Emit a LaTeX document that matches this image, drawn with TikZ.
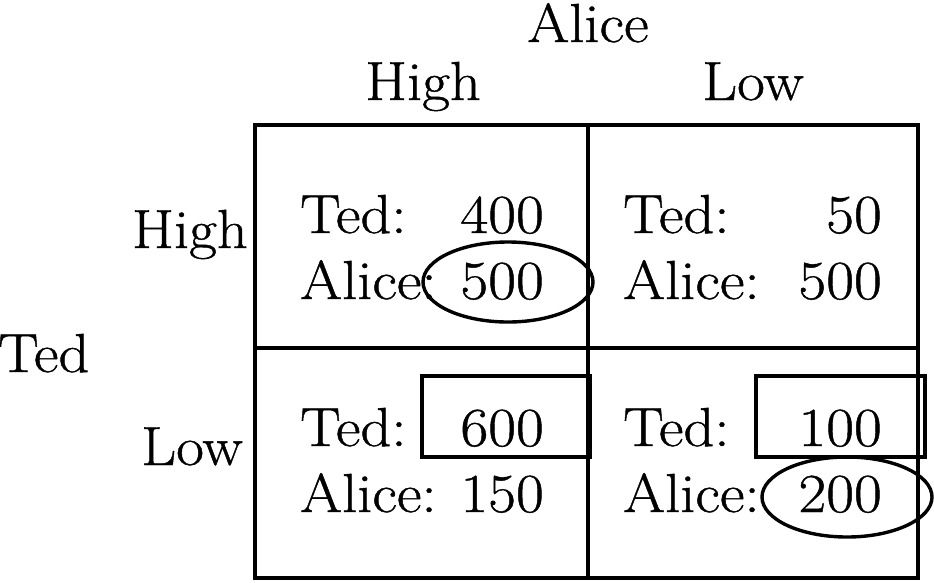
\documentclass[tikz,border=0pt]{standalone}
\usepackage{fontspec}
\newfontfamily\pfont{Latin Modern Roman}[FakeStretch=1.1, FakeBold=0.8]
\begin{document}
\begin{tikzpicture}[x=1pt,y=-1pt,
  txt/.style={font=\pfont\fontsize{55}{60}\selectfont, inner sep=0pt},
  lt/.style={txt, anchor=base west},
  rt/.style={txt, anchor=base east},
  ct/.style={txt, anchor=base},
  gridline/.style={line width=3.2pt, line cap=rect},
  ring/.style={line width=3.4pt},
  boxmark/.style={line width=3.4pt}]
\useasboundingbox (0,0) rectangle (934,582);
% grid
\draw[gridline] (255,125) rectangle (918,578);
\draw[gridline] (588,125) -- (588,578);
\draw[gridline] (255,348) -- (918,348);
% headers
\node[ct] (alice) at (588,42) {Alice};
\node[ct] (chigh) at (423,100) {High};
\node[ct] (clow) at (753,100) {Low};
\node[rt] (rhigh) at (248,248) {High};
\node[rt] (rlow) at (243,465) {Low};
\node[lt] (ted) at (-2,372) {Ted};
% cell HH
\node[lt] (t11) at (300,233) {Ted:};
\node[rt] (v11) at (544,233) {400};
\node[lt] (a11) at (300,299) {Alice:};
\node[rt] (w11) at (544,299) {500};
% cell HL
\node[lt] (t12) at (623,233) {Ted:};
\node[rt] (v12) at (882,233) {50};
\node[lt] (a12) at (623,299) {Alice:};
\node[rt] (w12) at (882,299) {500};
% cell LH
\node[lt] (t21) at (300,446) {Ted:};
\node[rt] (v21) at (544,446) {600};
\node[lt] (a21) at (300,512) {Alice:};
\node[rt] (w21) at (544,512) {150};
% cell LL
\node[lt] (t22) at (623,446) {Ted:};
\node[rt] (v22) at (882,446) {100};
\node[lt] (a22) at (623,512) {Alice:};
\node[rt] (w22) at (882,512) {200};
% marks
\draw[ring] (508,282) ellipse [x radius=85, y radius=40];
\draw[ring] (847,497) ellipse [x radius=85, y radius=40];
\draw[boxmark] (422,376) rectangle (590,457);
\draw[boxmark] (756,376) rectangle (925,457);
\end{tikzpicture}
\end{document}
